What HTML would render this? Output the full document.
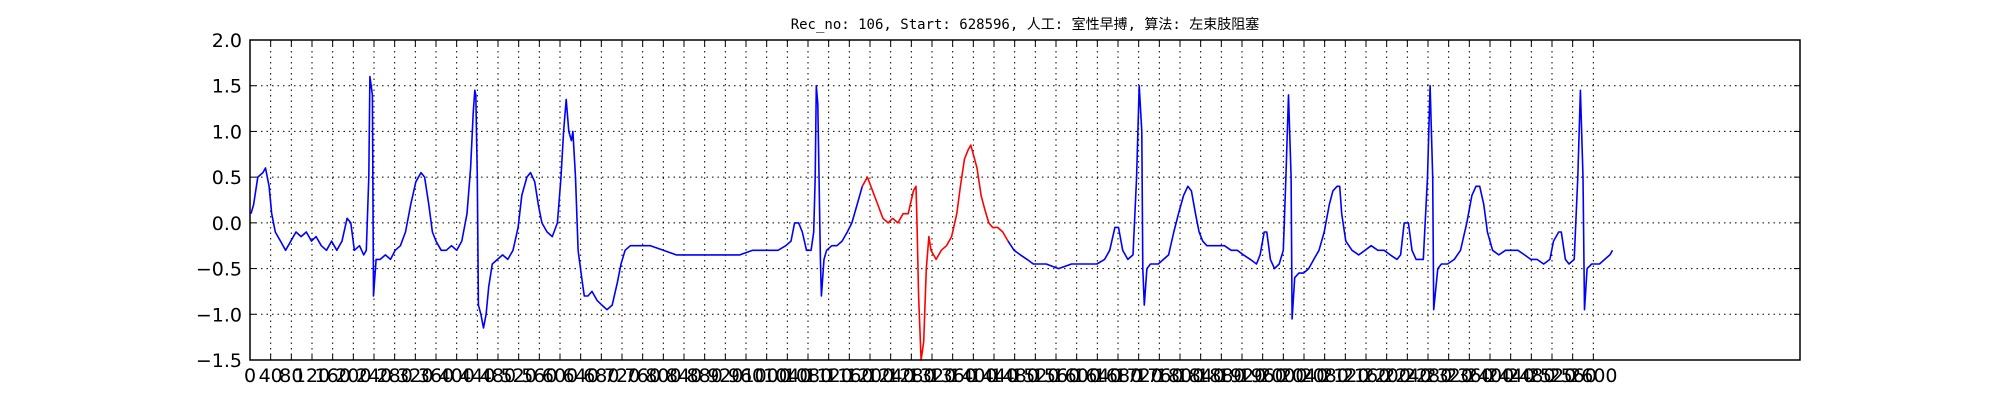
<!DOCTYPE html>
<html><head><meta charset="utf-8"><style>
html,body{margin:0;padding:0;background:#fff;width:2000px;height:400px;overflow:hidden}
svg text{font-family:"DejaVu Sans","Liberation Sans",sans-serif}
</style></head><body>
<svg id="chart" width="2000" height="400" viewBox="0 0 2000 400" xmlns="http://www.w3.org/2000/svg">
<rect x="0" y="0" width="2000" height="400" fill="#fff"/>
<text x="1025" y="29" text-anchor="middle" font-size="14" style="font-family:'DejaVu Sans Mono','Liberation Mono','Noto Sans CJK SC',monospace">Rec_no: 106, Start: 628596, 人工: 室性早搏, 算法: 左束肢阻塞</text>
<g id="grid"></g><g id="ticks"></g><g id="series"></g>
<rect x="250" y="40" width="1550" height="320" fill="none" stroke="#000" stroke-width="1.5"/>
</svg>
<script>
const yTicks=[2.0,1.5,1.0,0.5,0.0,-0.5,-1.0,-1.5];
const xTickStep=40, xTickMax=2600;
const blue1T=[2,7,15,25,30,37,42,49,59,69,79,89,99,109,119,128,138,148,158,168,178,188,195,202,212,220,225,230,232,237,239,244,252,262,272,281,291,301,311,321,331,338,346,353,360,370,380,390,400,410,420,427,432,435,437,440,442,447,452,457,462,469,479,489,499,509,519,526,536,543,551,558,565,575,585,595,602,607,612,617,622,625,630,635,642,647,654,662,672,681,691,701,711,718,726,736,751,775,800,825,849,874,899,923,948,973,997,1022,1037,1047,1054,1062,1069,1077,1086,1091,1094,1096,1099,1104,1106,1111,1116,1126,1136,1146,1156,1165,1175,1185];
const blue1V=[0.1,0.2,0.5,0.55,0.6,0.4,0.1,-0.1,-0.2,-0.3,-0.2,-0.1,-0.15,-0.1,-0.2,-0.15,-0.25,-0.3,-0.2,-0.3,-0.2,0.05,0.0,-0.3,-0.25,-0.35,-0.3,0.5,1.6,1.4,-0.8,-0.4,-0.4,-0.35,-0.4,-0.3,-0.25,-0.1,0.2,0.45,0.55,0.5,0.2,-0.1,-0.2,-0.3,-0.3,-0.25,-0.3,-0.2,0.1,0.6,1.2,1.45,1.4,0.5,-0.9,-1.0,-1.15,-1.0,-0.7,-0.45,-0.4,-0.35,-0.4,-0.3,-0.05,0.3,0.5,0.55,0.45,0.2,0.0,-0.1,-0.15,0.0,0.5,1.0,1.35,1.0,0.9,1.0,0.5,-0.3,-0.6,-0.8,-0.8,-0.75,-0.85,-0.9,-0.95,-0.9,-0.65,-0.45,-0.3,-0.25,-0.25,-0.25,-0.3,-0.35,-0.35,-0.35,-0.35,-0.35,-0.35,-0.3,-0.3,-0.3,-0.25,-0.2,0.0,0.0,-0.1,-0.3,-0.3,-0.1,0.5,1.5,1.3,-0.4,-0.8,-0.4,-0.3,-0.25,-0.25,-0.2,-0.1,0.0,0.2,0.4];
const redT=[1185,1195,1205,1215,1225,1235,1244,1254,1264,1274,1284,1289,1291,1294,1299,1304,1309,1314,1318,1328,1338,1348,1358,1368,1375,1383,1390,1395,1400,1407,1415,1422,1430,1437,1447,1457,1467];
const redV=[0.4,0.5,0.35,0.2,0.05,0.0,0.05,0.0,0.1,0.1,0.35,0.4,0.0,-0.8,-1.5,-1.3,-0.5,-0.15,-0.3,-0.4,-0.3,-0.25,-0.15,0.1,0.4,0.7,0.8,0.85,0.75,0.6,0.3,0.15,0.0,-0.05,-0.05,-0.1,-0.2];
const blue2T=[1467,1479,1491,1504,1516,1541,1565,1590,1615,1639,1654,1664,1674,1681,1689,1699,1709,1716,1721,1726,1728,1731,1736,1743,1758,1768,1778,1788,1797,1807,1815,1822,1830,1837,1844,1852,1862,1874,1886,1899,1911,1923,1936,1948,1955,1963,1968,1975,1983,1992,2000,2005,2010,2015,2017,2022,2030,2039,2049,2059,2069,2079,2089,2096,2104,2109,2113,2121,2133,2146,2158,2170,2183,2195,2207,2220,2227,2234,2242,2249,2257,2271,2279,2284,2289,2291,2299,2306,2318,2331,2343,2355,2365,2373,2380,2388,2395,2405,2417,2430,2442,2454,2467,2479,2491,2504,2516,2523,2533,2538,2546,2553,2563,2570,2575,2580,2583,2588,2597,2612,2622,2632,2637];
const blue2V=[-0.2,-0.3,-0.35,-0.4,-0.45,-0.45,-0.5,-0.45,-0.45,-0.45,-0.4,-0.3,-0.05,-0.05,-0.3,-0.4,-0.35,0.5,1.5,1.0,-0.5,-0.9,-0.5,-0.45,-0.45,-0.4,-0.35,-0.1,0.1,0.3,0.4,0.35,0.1,-0.1,-0.2,-0.25,-0.25,-0.25,-0.25,-0.3,-0.3,-0.35,-0.4,-0.45,-0.35,-0.1,-0.1,-0.4,-0.5,-0.45,-0.3,0.5,1.4,0.5,-1.05,-0.6,-0.55,-0.55,-0.5,-0.4,-0.3,-0.1,0.2,0.35,0.4,0.4,0.1,-0.2,-0.3,-0.35,-0.3,-0.25,-0.3,-0.3,-0.35,-0.4,-0.35,0.0,0.0,-0.3,-0.4,-0.4,0.5,1.5,0.5,-0.95,-0.5,-0.45,-0.45,-0.4,-0.3,0.0,0.3,0.4,0.4,0.2,-0.1,-0.3,-0.35,-0.3,-0.3,-0.3,-0.35,-0.4,-0.4,-0.45,-0.4,-0.2,-0.1,-0.1,-0.4,-0.45,-0.4,0.5,1.45,0.5,-0.95,-0.5,-0.45,-0.45,-0.4,-0.35,-0.3];

const L=250,R=1800,T=40,B=360,XMAX=3000,YMIN=-1.5,YMAX=2.0;
const sx=t=>L+t*(R-L)/XMAX;
const sy=v=>T+(YMAX-v)*(B-T)/(YMAX-YMIN);
const NS="http://www.w3.org/2000/svg";
const mk=(tag,attrs,parent)=>{const e=document.createElementNS(NS,tag);for(const k in attrs)e.setAttribute(k,attrs[k]);parent.appendChild(e);return e;};
const grid=document.getElementById('grid'),ticks=document.getElementById('ticks'),series=document.getElementById('series');

yTicks.forEach(v=>{
  const y=sy(v);
  if(v<YMAX&&v>YMIN){const g=mk('line',{x1:L,x2:R,y1:y,y2:y,stroke:'#000','stroke-width':1,'stroke-dasharray':'1.5,4'},grid);
  
  }
  mk('line',{x1:L,x2:L+6,y1:y,y2:y,stroke:'#000'},ticks);
  mk('line',{x1:R-6,x2:R,y1:y,y2:y,stroke:'#000'},ticks);
  const t=mk('text',{x:L-8,y:y+7,'text-anchor':'end','font-size':19},ticks);
  t.textContent=(v<0?'\u2212':'')+Math.abs(v).toFixed(1);
  
  
});
for(let v=0;v<=xTickMax;v+=xTickStep){
  const x=sx(v);
  if(v>0){const g=mk('line',{x1:x,x2:x,y1:T,y2:B,stroke:'#000','stroke-width':1,'stroke-dasharray':'1.5,4'},grid);
  
  }
  mk('line',{x1:x,x2:x,y1:B-6,y2:B,stroke:'#000'},ticks);
  mk('line',{x1:x,x2:x,y1:T,y2:T+6,stroke:'#000'},ticks);
  const t=mk('text',{x:x,y:382,'text-anchor':'middle','font-size':19},ticks);
  t.textContent=String(v);
  
  
}
function line(ts,vs,color,name){
  const p=mk('polyline',{points:ts.map((t,i)=>sx(t).toFixed(1)+','+sy(vs[i]).toFixed(1)).join(' '),fill:'none',stroke:color,'stroke-width':1.6,'stroke-linejoin':'round'},series);
  
  
}
line(blue1T,blue1V,'#0000ff','ecg-trace-before');
line(redT,redV,'#ff0000','ecg-trace-highlight');
line(blue2T,blue2V,'#0000ff','ecg-trace-after');
</script>
</body></html>
